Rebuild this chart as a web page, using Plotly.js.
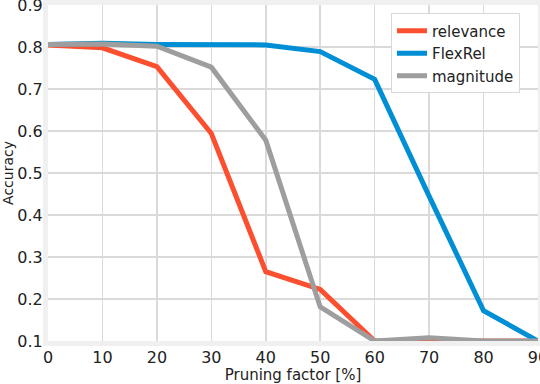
<!DOCTYPE html>
<html>
<head>
<meta charset="utf-8">
<script src="https://cdn.plot.ly/plotly-3.0.1.min.js"></script>
<style>
  body { margin: 0; padding: 0; background: #fff; }
  #chart { width: 540px; height: 384px; }
</style>
</head>
<body>
<div id="chart"></div>
<script>
// pruning factor in percent
var pruning = [0, 10, 20, 30, 40, 50, 60, 70, 80, 90];

// accuracy per method
var relevance = [0.805, 0.798, 0.753, 0.594, 0.265, 0.223, 0.1, 0.1, 0.1, 0.1];
var flexRel = [0.806, 0.809, 0.806, 0.806, 0.805, 0.789, 0.723, 0.445, 0.172, 0.1];
var magnitude = [0.806, 0.807, 0.802, 0.752, 0.578, 0.181, 0.1, 0.108, 0.1, 0.1];

var yTicks = [0.1, 0.2, 0.3, 0.4, 0.5, 0.6, 0.7, 0.8, 0.9];
var xTicks = [0, 10, 20, 30, 40, 50, 60, 70, 80, 90];

function trace(name, y, color) {
    return {
        x: pruning,
        y: y,
        name: name,
        mode: "lines",
        type: "scatter",
        line: { color: color, width: 5 },
    };
}

var data = [
    trace("relevance", relevance, "#fc4f30"),
    trace("FlexRel", flexRel, "#008fd5"),
    trace("magnitude", magnitude, "#9e9e9e"),
];

var axisStyle = {
    showgrid: true,
    gridcolor: "#dadada",
    gridwidth: 1.5,
    zeroline: false,
    showline: true,
    linecolor: "#f0f0f0",
    linewidth: 5,
    mirror: true,
    ticks: "",
    ticklabeloverflow: "allow",
    tickfont: { family: "DejaVu Sans, Verdana, sans-serif", size: 16, color: "#222" },
};

var layout = {
    width: 540,
    height: 384,
    margin: { l: 48, r: 2, t: 5, b: 43 },
    paper_bgcolor: "#ffffff",
    plot_bgcolor: "#ffffff",
    font: { family: "DejaVu Sans, Verdana, sans-serif", color: "#222" },
    xaxis: Object.assign({}, axisStyle, {
        range: [0, 90],
        tickvals: xTicks,
        ticktext: xTicks.map(String),
        ticklabelstandoff: -2,
        title: { text: "Pruning factor [%]", font: { size: 15 }, standoff: 2 },
    }),
    yaxis: Object.assign({}, axisStyle, {
        range: [0.1, 0.9],
        tickvals: yTicks,
        ticktext: yTicks.map(function (v) { return v.toFixed(1); }),
        ticklabelstandoff: -3,
        title: { text: "Accuracy", font: { size: 14 }, standoff: 2 },
    }),
    legend: {
        x: 0.7,
        y: 0.975,
        xanchor: "left",
        yanchor: "top",
        bgcolor: "#ffffff",
        bordercolor: "#d8d8d8",
        borderwidth: 1,
        font: { size: 15 },
        tracegroupgap: 0,
    },
    showlegend: true,
};

Plotly.newPlot("chart", data, layout, {
    displayModeBar: false,
    staticPlot: true,
});
</script>
</body>
</html>
